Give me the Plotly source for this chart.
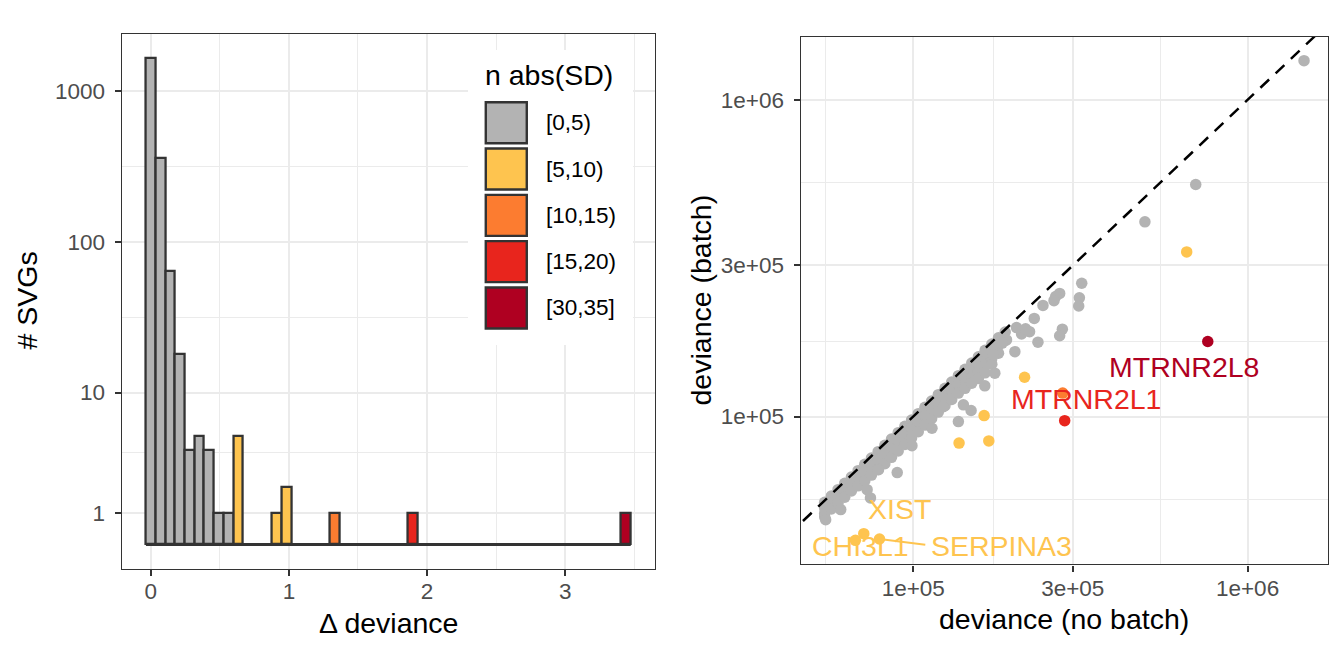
import numpy as np
import plotly.graph_objects as go

# ---------------- data ----------------
# histogram of delta deviance: 50 bins of equal width, centred on k * BIN_W
BIN_W = 0.0702
N_BINS = 50
hist_bin = [0, 1, 2, 3, 4, 5, 6, 7, 8, 9, 13, 14, 19, 27, 49]
hist_count = [1640, 360, 64, 18, 4, 5, 4, 1, 1, 5, 1, 2, 1, 1, 1]
hist_group = ["[0,5)"] * 9 + ["[5,10)"] * 3 + ["[10,15)", "[15,20)", "[30,35]"]

groups = ["[0,5)", "[5,10)", "[10,15)", "[15,20)", "[30,35]"]
group_colors = ["#B3B3B3", "#FEC44F", "#FC7C30", "#E8251D", "#AF0021"]

y_ticks = [1, 10, 100, 1000]

# scatter: log10 deviance without / with batch, grey = [0,5)
grey_nobatch = [
    4.735, 4.735, 4.735, 4.755, 4.755, 4.755, 4.775, 4.775, 4.775,
    4.795, 4.795, 4.795, 4.815, 4.815, 4.815, 4.835, 4.835, 4.835,
    4.855, 4.855, 4.855, 4.875, 4.875, 4.875, 4.895, 4.895, 4.895,
    4.915, 4.915, 4.915, 4.935, 4.935, 4.935, 4.955, 4.955, 4.955,
    4.975, 4.975, 4.975, 4.995, 4.995, 4.995, 5.015, 5.015, 5.015,
    5.035, 5.035, 5.035, 5.055, 5.055, 5.055, 5.075, 5.075, 5.075,
    5.095, 5.095, 5.095, 5.115, 5.115, 5.115, 5.135, 5.135, 5.135,
    5.155, 5.155, 5.155, 5.175, 5.175, 5.175, 5.175,
    5.195, 5.195, 5.195, 5.195, 5.215, 5.215, 5.215, 5.215,
    5.235, 5.235, 5.235, 5.235, 5.255, 5.255, 5.255, 5.275, 5.275,
    6.169, 5.845, 5.693, 5.504, 5.438, 5.426, 5.497, 5.495, 5.421, 5.388,
    5.362, 5.446, 5.438, 5.309, 5.324, 5.348, 5.336, 5.373, 5.279, 5.266,
    5.304, 5.236, 5.219, 5.239, 5.214, 5.173, 5.150, 5.135, 5.056, 4.996,
    4.952, 4.896, 4.862, 4.872, 4.783, 4.735, 4.738, 5.090, 5.244,
]
grey_batch = [
    4.729, 4.710, 4.694, 4.749, 4.728, 4.708, 4.769, 4.747, 4.727,
    4.789, 4.767, 4.745, 4.809, 4.787, 4.765, 4.829, 4.805, 4.781,
    4.849, 4.825, 4.797, 4.869, 4.845, 4.815, 4.889, 4.863, 4.833,
    4.909, 4.883, 4.851, 4.929, 4.903, 4.871, 4.949, 4.923, 4.891,
    4.969, 4.943, 4.912, 4.989, 4.963, 4.932, 5.009, 4.983, 4.952,
    5.029, 5.003, 4.973, 5.049, 5.023, 4.994, 5.069, 5.043, 5.014,
    5.089, 5.063, 5.034, 5.109, 5.083, 5.054, 5.129, 5.103, 5.074,
    5.149, 5.121, 5.089, 5.169, 5.145, 5.123, 5.105,
    5.189, 5.165, 5.141, 5.120, 5.209, 5.185, 5.161, 5.138,
    5.229, 5.205, 5.183, 5.165, 5.249, 5.225, 5.200, 5.267, 5.240,
    6.124, 5.733, 5.615, 5.421, 5.389, 5.379, 5.375, 5.349, 5.366, 5.351,
    5.310, 5.276, 5.255, 5.281, 5.261, 5.268, 5.277, 5.235, 5.242, 5.232,
    5.205, 5.210, 5.200, 5.195, 5.097, 5.019, 5.037, 4.984, 4.963, 4.908,
    4.823, 4.832, 4.769, 4.743, 4.706, 4.683, 4.674, 5.031, 5.137,
]

# coloured genes (log10 deviance)
sig_nobatch = [5.818, 5.333, 5.212, 5.137, 5.226, 4.852, 4.827, 4.899, 5.447, 5.453, 5.881]
sig_batch = [5.520, 5.124, 5.003, 4.916, 4.923, 4.630, 4.609, 4.613, 5.074, 4.987, 5.237]
sig_group = ["[5,10)"] * 8 + ["[10,15)", "[15,20)", "[30,35]"]
sig_label = ["", "", "", "", "", "XIST", "CHI3L1", "SERPINA3", "", "MTRNR2L1", "MTRNR2L8"]

# where the repelled labels sit (log10 coords)
label_pos = {
    "XIST": (4.958, 4.709),
    "CHI3L1": (4.842, 4.590),
    "SERPINA3": (5.264, 4.590),
    "MTRNR2L1": (5.516, 5.054),
    "MTRNR2L8": (5.810, 5.157),
}
segment_end = {"SERPINA3": (5.036, 4.595)}

dev_ticks = [1e5, 3e5, 1e6]
dev_ticktext = ["1e+05", "3e+05", "1e+06"]

# ---------------- helpers ----------------
FONT = "Liberation Sans, Arial, sans-serif"
TICK_SIZE = 22.5
TITLE_SIZE = 28.5
GRID = "#EBEBEB"
DARK = "#333333"
# the page body has an 8px margin, so the figure starts at (8, 8)
OFF = 8
W, H = 1344 - OFF, 672 - OFF


def px_x(p):
    return (p - OFF) / W


def px_y(p):
    return 1 - (p - OFF) / H


def pseudo_log(v):
    return np.arcsinh(np.asarray(v, dtype=float) / 2) / np.log(10)


def expand(lo, hi, frac=0.05):
    d = (hi - lo) * frac
    return [lo - d, hi + d]


col_of = dict(zip(groups, group_colors))

fig = go.Figure()

# ---------------- left panel ----------------
for g in groups:
    xs = [b * BIN_W for b, gg in zip(hist_bin, hist_group) if gg == g]
    ys = [pseudo_log(c) for c, gg in zip(hist_count, hist_group) if gg == g]
    fig.add_trace(go.Bar(x=xs, y=ys, width=BIN_W, xaxis="x", yaxis="y",
                         marker=dict(color=col_of[g], line=dict(color=DARK, width=2.3)),
                         showlegend=False, hoverinfo="skip"))

edges = [-BIN_W / 2, (N_BINS - 1) * BIN_W + BIN_W / 2]
fig.add_trace(go.Scatter(x=edges, y=[0, 0], mode="lines", xaxis="x", yaxis="y",
                         line=dict(color=DARK, width=3), showlegend=False, hoverinfo="skip"))

yt = pseudo_log(y_ticks)
y_minor = [(a + b) / 2 for a, b in zip(yt[:-1], yt[1:])]

# ---------------- right panel ----------------
fig.add_trace(go.Scatter(x=10 ** np.array(grey_nobatch), y=10 ** np.array(grey_batch),
                         mode="markers", xaxis="x2", yaxis="y2",
                         marker=dict(color=group_colors[0], size=11.5, line=dict(width=0)),
                         showlegend=False, hoverinfo="skip"))

all_x = grey_nobatch + sig_nobatch
all_y = grey_batch + sig_batch
xr = expand(min(all_x), max(all_x))
yr = expand(min(all_y), max(all_y))
lo, hi = min(xr[0], yr[0]), max(xr[1], yr[1])
fig.add_trace(go.Scatter(x=[10 ** lo, 10 ** hi], y=[10 ** lo, 10 ** hi], mode="lines",
                         xaxis="x2", yaxis="y2",
                         line=dict(color="black", width=2.5, dash="12px,9px"),
                         showlegend=False, hoverinfo="skip"))

for name, (ex, ey) in segment_end.items():
    i = sig_label.index(name)
    fig.add_trace(go.Scatter(x=[10 ** sig_nobatch[i], 10 ** ex], y=[10 ** sig_batch[i], 10 ** ey],
                             mode="lines", xaxis="x2", yaxis="y2",
                             line=dict(color=col_of[sig_group[i]], width=2),
                             showlegend=False, hoverinfo="skip"))

fig.add_trace(go.Scatter(x=10 ** np.array(sig_nobatch), y=10 ** np.array(sig_batch),
                         mode="markers", xaxis="x2", yaxis="y2",
                         marker=dict(color=[col_of[g] for g in sig_group], size=11.5, line=dict(width=0)),
                         showlegend=False, hoverinfo="skip"))

annotations = []
for name, g in zip(sig_label, sig_group):
    if not name:
        continue
    lx, ly = label_pos[name]
    annotations.append(dict(x=lx, y=ly, xref="x2", yref="y2", text=name, showarrow=False,
                            font=dict(size=TITLE_SIZE, color=col_of[g], family=FONT),
                            xanchor="center", yanchor="middle"))

# ---------------- legend (drawn as its own little panel) ----------------
LEG_X = [px_x(468), px_x(633)]
LEG_Y = [px_y(345), px_y(50)]
fig.add_trace(go.Scatter(x=[0.232] * len(groups), y=list(range(len(groups))), mode="markers",
                         xaxis="x3", yaxis="y3",
                         marker=dict(symbol="square", size=41, color=group_colors,
                                     line=dict(color=DARK, width=2.4)),
                         showlegend=False, hoverinfo="skip"))
for i, g in enumerate(groups):
    annotations.append(dict(x=0.462, y=i, xref="x3", yref="y3", text=g, showarrow=False,
                            xanchor="left", yanchor="middle",
                            font=dict(size=TICK_SIZE, color="black", family=FONT)))
annotations.append(dict(x=0.09, y=-1.03, xref="x3", yref="y3", text="n abs(SD)", showarrow=False,
                        xanchor="left", yanchor="middle",
                        font=dict(size=TITLE_SIZE, color="black", family=FONT)))

# axis titles
title_font = dict(size=TITLE_SIZE, color="black", family=FONT)
annotations += [
    dict(x=px_x(26.5), y=px_y(301), xref="paper", yref="paper", text="# SVGs", textangle=-90,
         showarrow=False, font=title_font, xanchor="center", yanchor="middle"),
    dict(x=px_x(388.3), y=px_y(622.5), xref="paper", yref="paper", text="Δ deviance",
         showarrow=False, font=title_font, xanchor="center", yanchor="middle"),
    dict(x=px_x(700), y=px_y(300.5), xref="paper", yref="paper", text="deviance (batch)", textangle=-90,
         showarrow=False, font=title_font, xanchor="center", yanchor="middle"),
    dict(x=px_x(1064.4), y=px_y(619), xref="paper", yref="paper", text="deviance (no batch)",
         showarrow=False, font=title_font, xanchor="center", yanchor="middle"),
]

axis_common = dict(showline=True, mirror=True, linecolor=DARK, linewidth=1.4,
                   ticks="outside", ticklen=6, tickwidth=2, tickcolor=DARK,
                   tickfont=dict(size=TICK_SIZE, color="#4D4D4D", family=FONT),
                   showgrid=True, gridcolor=GRID, gridwidth=2.2, zeroline=False, fixedrange=True)

x_range = expand(edges[0], edges[1])
y_range = expand(0, float(pseudo_log(max(hist_count))))
dev_minor = [np.sqrt(3e4 * 1e5), np.sqrt(1e5 * 3e5), np.sqrt(3e5 * 1e6), np.sqrt(1e6 * 3e6)]
minor_style = dict(showgrid=True, gridcolor=GRID, gridwidth=1.1, ticks="")

fig.update_layout(
    width=W, height=H, margin=dict(l=0, r=0, t=0, b=0),
    paper_bgcolor="white", plot_bgcolor="white",
    barmode="overlay", bargap=0,
    font=dict(family=FONT),
    xaxis=dict(domain=[px_x(121.7), px_x(655)], anchor="y", range=x_range,
               tickvals=[0, 1, 2, 3], ticktext=["0", "1", "2", "3"],
               minor=dict(tickvals=[0.5, 1.5, 2.5, 3.5], **minor_style),
               ticklabelstandoff=-4, **axis_common),
    yaxis=dict(domain=[px_y(568.7), px_y(34)], anchor="x", range=y_range,
               tickvals=list(yt), ticktext=[str(t) for t in y_ticks],
               minor=dict(tickvals=y_minor, **minor_style),
               ticklabelstandoff=5, **axis_common),
    xaxis2=dict(domain=[px_x(800.7), px_x(1328)], anchor="y2", type="log", range=xr,
                tickvals=dev_ticks, ticktext=dev_ticktext,
                minor=dict(tickvals=dev_minor, **minor_style),
                ticklabelstandoff=-3, **axis_common),
    yaxis2=dict(domain=[px_y(564.3), px_y(36.7)], anchor="x2", type="log", range=yr,
                tickvals=dev_ticks, ticktext=dev_ticktext,
                minor=dict(tickvals=dev_minor, **minor_style),
                ticklabelstandoff=5, **axis_common),
    xaxis3=dict(domain=LEG_X, anchor="y3", range=[0, 1], visible=False, fixedrange=True),
    yaxis3=dict(domain=LEG_Y, anchor="x3", range=[4.80, -1.57], visible=False, fixedrange=True),
    shapes=[dict(type="rect", xref="x3 domain", yref="y3 domain", x0=0, x1=1, y0=0, y1=1,
                 fillcolor="white", line=dict(width=0), layer="below")],
    annotations=annotations,
)

fig.write_html("out.html")
